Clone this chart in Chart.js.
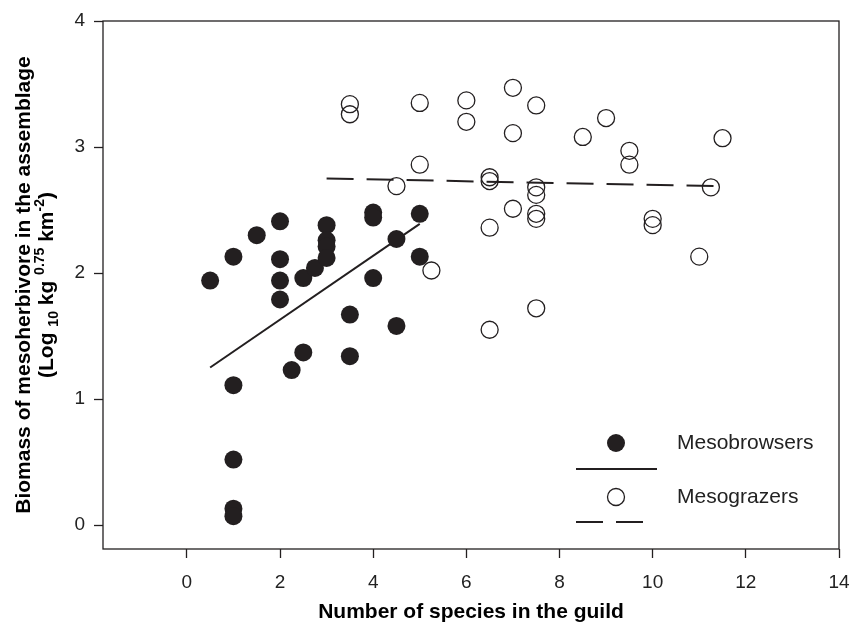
<!DOCTYPE html>
<html>
<head>
<meta charset="utf-8">
<script src="https://cdn.jsdelivr.net/npm/chart.js@4"></script>
<style>
  html, body { margin: 0; padding: 0; background: #fff; }
  #wrap { width: 853px; height: 623px; }
</style>
</head>
<body>
<div id="wrap"><canvas id="guild-chart" width="853" height="623"></canvas></div>
<script>
// Mesobrowsers (filled circles)
const browserX = [0.5, 1, 1, 1, 1, 1, 1.5, 2, 2, 2, 2, 2.25, 2.5, 2.5, 2.75, 3, 3, 3, 3, 3.5, 3.5, 4, 4, 4, 4.5, 4.5, 5, 5];
const browserY = [1.94, 2.13, 1.11, 0.52, 0.13, 0.07, 2.30, 2.41, 2.11, 1.94, 1.79, 1.23, 1.96, 1.37, 2.04, 2.38, 2.26, 2.21, 2.12, 1.67, 1.34, 2.48, 2.44, 1.96, 2.27, 1.58, 2.47, 2.13];

// Mesograzers (open circles)
const grazerX = [3.5, 3.5, 4.5, 5, 5, 5.25, 6, 6, 6.5, 6.5, 6.5, 6.5, 7, 7, 7, 7.5, 7.5, 7.5, 7.5, 7.5, 7.5, 8.5, 9, 9.5, 9.5, 10, 10, 11, 11.25, 11.5];
const grazerY = [3.34, 3.26, 2.69, 3.35, 2.86, 2.02, 3.37, 3.20, 2.76, 2.73, 2.36, 1.55, 3.47, 3.11, 2.51, 3.33, 2.68, 2.62, 2.47, 2.43, 1.72, 3.08, 3.23, 2.97, 2.86, 2.43, 2.38, 2.13, 2.68, 3.07];

// fitted lines (end points)
const browserFitX = [0.5, 5.0];
const browserFitY = [1.25, 2.39];
const grazerFitX = [3.0, 11.34];
const grazerFitY = [2.75, 2.69];

const xTicks = [0, 2, 4, 6, 8, 10, 12, 14];
const yTicks = [0, 1, 2, 3, 4];

const ink = '#231f20';
const zip = (xs, ys) => xs.map((x, i) => ({ x: x, y: ys[i] }));

// box, y title with sub/superscripts, x title and the legend
const decorations = {
  id: 'decorations',
  afterDraw(chart) {
    const { ctx, chartArea: a } = chart;
    ctx.save();
    ctx.strokeStyle = ink;
    ctx.lineWidth = 1.3;
    ctx.strokeRect(a.left, a.top, a.right - a.left, a.bottom - a.top);

    const cy = (a.top + a.bottom) / 2;
    const cx = (a.left + a.right) / 2;
    ctx.fillStyle = '#000';

    // x title
    ctx.font = 'bold 21px "Liberation Sans", Arial, sans-serif';
    ctx.textAlign = 'center';
    ctx.textBaseline = 'alphabetic';
    ctx.fillText('Number of species in the guild', cx, 618);

    // y title, line 1
    ctx.save();
    ctx.translate(30, cy);
    ctx.rotate(-Math.PI / 2);
    ctx.fillText('Biomass of mesoherbivore in the assemblage', 0, 0);
    ctx.restore();

    // y title, line 2 with sub/superscripts
    const big = 'bold 21px "Liberation Sans", Arial, sans-serif';
    const small = 'bold 14px "Liberation Sans", Arial, sans-serif';
    const parts = [
      ['(Log ', big, 0],
      ['10', small, 5],
      [' kg ', big, 0],
      ['0.75', small, -9],
      [' km', big, 0],
      ['-2', small, -9],
      [')', big, 0]
    ];
    let total = 0;
    parts.forEach(p => { ctx.font = p[1]; total += ctx.measureText(p[0]).width; });
    ctx.save();
    ctx.translate(53, cy);
    ctx.rotate(-Math.PI / 2);
    ctx.textAlign = 'left';
    let px = -total / 2;
    parts.forEach(p => {
      ctx.font = p[1];
      ctx.fillText(p[0], px, p[2]);
      px += ctx.measureText(p[0]).width;
    });
    ctx.restore();

    // legend
    const lx = a.right - 263;
    const ly = a.bottom - 106;
    ctx.fillStyle = ink;
    ctx.beginPath();
    ctx.arc(lx + 40, ly, 9, 0, Math.PI * 2);
    ctx.fill();
    ctx.lineWidth = 2;
    ctx.beginPath();
    ctx.moveTo(lx, ly + 26);
    ctx.lineTo(lx + 81, ly + 26);
    ctx.stroke();
    ctx.lineWidth = 1.3;
    ctx.beginPath();
    ctx.arc(lx + 40, ly + 54, 8.5, 0, Math.PI * 2);
    ctx.stroke();
    ctx.lineWidth = 2;
    ctx.beginPath();
    ctx.moveTo(lx, ly + 79);
    ctx.lineTo(lx + 27, ly + 79);
    ctx.moveTo(lx + 40, ly + 79);
    ctx.lineTo(lx + 67, ly + 79);
    ctx.stroke();
    ctx.fillStyle = '#222';
    ctx.font = '21px "Liberation Sans", Arial, sans-serif';
    ctx.textAlign = 'left';
    ctx.textBaseline = 'middle';
    ctx.fillText('Mesobrowsers', lx + 101, ly);
    ctx.fillText('Mesograzers', lx + 101, ly + 54);
    ctx.restore();
  }
};

new Chart(document.getElementById('guild-chart').getContext('2d'), {
  type: 'scatter',
  data: {
    datasets: [
      {
        label: 'Mesograzers',
        data: zip(grazerX, grazerY),
        pointRadius: 8.5,
        pointBackgroundColor: 'rgba(255,255,255,0)',
        pointBorderColor: ink,
        pointBorderWidth: 1.3,
        order: 1
      },
      {
        label: 'Mesobrowsers',
        data: zip(browserX, browserY),
        pointRadius: 9,
        pointBackgroundColor: ink,
        pointBorderColor: ink,
        pointBorderWidth: 0,
        order: 2
      },
      {
        label: 'Mesobrowsers fit',
        data: zip(browserFitX, browserFitY),
        showLine: true,
        pointRadius: 0,
        borderColor: ink,
        borderWidth: 2,
        order: 3
      },
      {
        label: 'Mesograzers fit',
        data: zip(grazerFitX, grazerFitY),
        showLine: true,
        pointRadius: 0,
        borderColor: ink,
        borderWidth: 2,
        borderDash: [27, 13],
        order: 3
      }
    ]
  },
  options: {
    responsive: false,
    animation: false,
    events: [],
    layout: { padding: { top: 21, right: 14, left: 0, bottom: 0 } },
    plugins: {
      legend: { display: false },
      tooltip: { enabled: false }
    },
    scales: {
      x: {
        type: 'linear',
        min: -1.8,
        max: 14,
        afterBuildTicks: s => { s.ticks = xTicks.map(v => ({ value: v })); },
        afterFit: s => { s.height = 74; s.paddingLeft = 0; s.paddingRight = 0; },
        border: { display: false },
        grid: { drawOnChartArea: false, drawTicks: true, tickLength: 9, tickColor: ink, tickWidth: 1.3 },
        ticks: { color: '#222', padding: 13, maxRotation: 0, font: { family: '"Liberation Sans", Arial, sans-serif', size: 19 } }
      },
      y: {
        type: 'linear',
        min: -0.19,
        max: 4,
        afterBuildTicks: s => { s.ticks = yTicks.map(v => ({ value: v })); },
        afterFit: s => { s.width = 103; s.paddingTop = 0; s.paddingBottom = 0; },
        border: { display: false },
        grid: { drawOnChartArea: false, drawTicks: true, tickLength: 9, tickColor: ink, tickWidth: 1.3 },
        ticks: { color: '#222', padding: 9, font: { family: '"Liberation Sans", Arial, sans-serif', size: 19 } }
      }
    }
  },
  plugins: [decorations]
});
</script>
</body>
</html>
